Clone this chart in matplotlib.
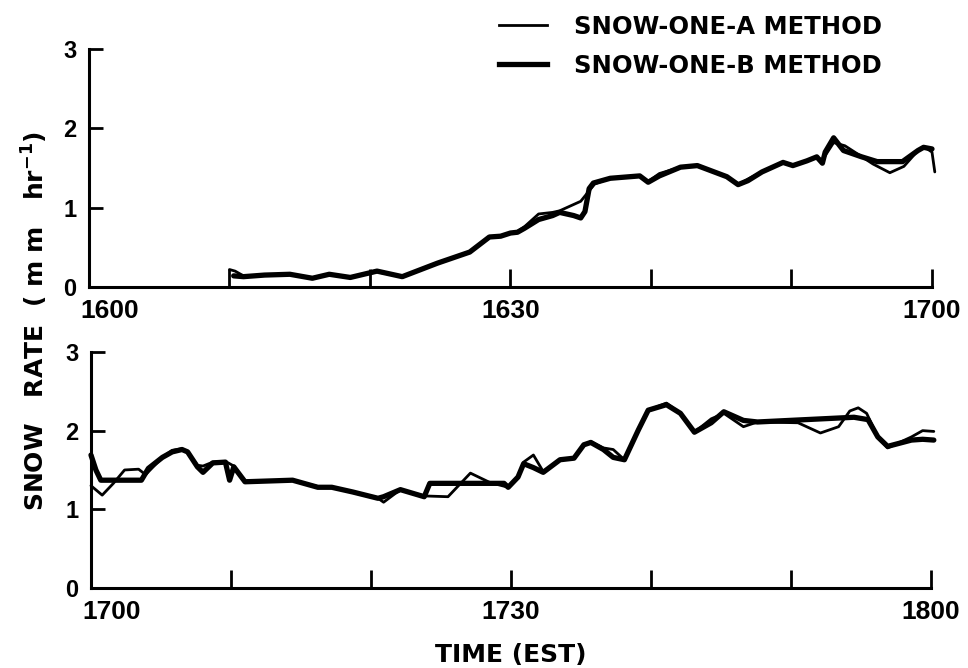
import matplotlib
matplotlib.use("Agg")
import matplotlib.pyplot as plt
from matplotlib.lines import Line2D
from matplotlib.transforms import ScaledTranslation

# minutes after the hour, snow rate in mm/hr
top_a_min = [10.0, 10.4, 11.0, 12.5, 14.3, 15.9, 17.1, 18.6, 20.5, 22.3, 24.8, 27.1, 28.5, 29.3,
             30.0, 30.5, 31.0, 32.0, 33.0, 33.5, 35.0, 36.0, 37.1, 39.2, 39.8, 40.6, 42.1, 43.3,
             44.2, 45.4, 46.2, 46.9, 47.9, 49.4, 50.1, 51.1, 51.8, 52.2, 53.0, 53.8, 54.5, 55.8,
             57.0, 58.0, 59.0, 59.5, 60.0, 60.2]
top_a_val = [0.22, 0.20, 0.14, 0.15, 0.16, 0.11, 0.16, 0.12, 0.19, 0.13, 0.30, 0.44, 0.62, 0.64,
             0.68, 0.70, 0.76, 0.92, 0.94, 0.96, 1.08, 1.30, 1.37, 1.40, 1.33, 1.43, 1.51, 1.53,
             1.47, 1.39, 1.29, 1.36, 1.45, 1.57, 1.53, 1.59, 1.63, 1.60, 1.82, 1.78, 1.70, 1.55,
             1.44, 1.52, 1.72, 1.76, 1.70, 1.45]

top_b_min = [10.3, 11.0, 12.5, 14.3, 15.9, 17.1, 18.6, 20.5, 22.3, 24.8, 27.1, 28.5, 29.3, 30.0,
             30.5, 31.0, 32.0, 33.0, 33.5, 34.5, 35.0, 35.3, 35.6, 35.9, 37.1, 39.2, 39.8, 40.6,
             42.1, 43.3, 44.2, 45.4, 46.2, 46.9, 47.9, 49.4, 50.1, 51.1, 51.8, 52.2, 52.4, 53.0,
             53.7, 55.0, 56.1, 57.9, 59.0, 59.4, 60.0]
top_b_val = [0.14, 0.13, 0.15, 0.16, 0.11, 0.16, 0.12, 0.20, 0.13, 0.30, 0.44, 0.63, 0.64, 0.68,
             0.69, 0.74, 0.85, 0.90, 0.94, 0.90, 0.87, 0.95, 1.24, 1.31, 1.37, 1.40, 1.32, 1.40,
             1.51, 1.53, 1.47, 1.39, 1.29, 1.34, 1.45, 1.57, 1.53, 1.59, 1.64, 1.56, 1.70, 1.88,
             1.72, 1.64, 1.58, 1.58, 1.72, 1.76, 1.74]

bot_a_min = [0.0, 0.8, 1.6, 2.4, 3.4, 3.9, 4.5, 5.1, 5.8, 6.5, 6.9, 7.6, 8.0, 8.7, 9.6, 10.2,
             11.0, 14.4, 16.2, 17.2, 18.7, 20.5, 20.9, 22.1, 23.8, 25.5, 27.1, 28.5, 29.8, 30.5,
             30.9, 31.6, 32.3, 33.5, 34.5, 35.2, 35.7, 36.6, 37.3, 38.1, 39.1, 39.8, 41.1, 42.1,
             43.1, 44.3, 45.2, 46.6, 47.6, 50.5, 52.1, 53.4, 54.2, 54.8, 55.4, 56.2, 56.9, 58.6,
             59.4, 60.2]
bot_a_val = [1.30, 1.18, 1.33, 1.50, 1.51, 1.44, 1.55, 1.66, 1.75, 1.77, 1.73, 1.56, 1.55, 1.60,
             1.61, 1.55, 1.36, 1.37, 1.29, 1.28, 1.22, 1.14, 1.09, 1.25, 1.17, 1.16, 1.46, 1.34,
             1.28, 1.41, 1.60, 1.69, 1.48, 1.63, 1.65, 1.82, 1.86, 1.78, 1.76, 1.63, 2.01, 2.26,
             2.35, 2.22, 1.98, 2.15, 2.22, 2.05, 2.11, 2.10, 1.97, 2.05, 2.25, 2.29, 2.22, 1.92,
             1.78, 1.92, 2.00, 1.99]

bot_b_min = [0.0, 0.35, 0.7, 3.6, 4.1, 5.1, 5.8, 6.5, 6.9, 7.6, 8.0, 8.7, 9.6, 9.9, 10.2, 11.0,
             14.4, 16.2, 17.2, 18.7, 20.5, 20.9, 22.1, 23.8, 24.2, 29.5, 29.8, 30.5, 30.9, 31.6,
             32.3, 33.5, 34.5, 35.2, 35.7, 36.6, 37.3, 38.1, 39.1, 39.8, 41.1, 42.1, 43.1, 44.3,
             45.2, 46.6, 47.6, 54.5, 55.5, 56.2, 56.9, 58.6, 59.4, 60.2]
bot_b_val = [1.69, 1.50, 1.37, 1.37, 1.52, 1.66, 1.73, 1.76, 1.73, 1.54, 1.47, 1.59, 1.60, 1.37,
             1.54, 1.35, 1.37, 1.28, 1.28, 1.22, 1.14, 1.16, 1.25, 1.16, 1.33, 1.33, 1.28, 1.41,
             1.58, 1.53, 1.47, 1.63, 1.65, 1.82, 1.85, 1.76, 1.66, 1.63, 2.01, 2.26, 2.33, 2.22,
             1.98, 2.10, 2.24, 2.13, 2.11, 2.17, 2.14, 1.92, 1.80, 1.88, 1.89, 1.88]

x_ticks = [0, 10, 20, 30, 40, 50, 60]
top_labels = ["1600", "", "", "1630", "", "", "1700"]
bot_labels = ["1700", "", "", "1730", "", "", "1800"]
y_ticks = [0, 1, 2, 3]

label_a = "SNOW-ONE-A METHOD"
label_b = "SNOW-ONE-B METHOD"

NUM_FONT = "Liberation Sans"
TXT_FONT = "DejaVu Sans"
THIN, THICK = 2.0, 3.8


def style_axis(ax, labels):
    ax.set_xlim(0, 60)
    ax.set_ylim(0, 3)
    for side in ("top", "right"):
        ax.spines[side].set_visible(False)
    for side in ("left", "bottom"):
        ax.spines[side].set_linewidth(2.2)
    ax.set_xticks(x_ticks)
    ax.set_xticklabels(labels, fontfamily=NUM_FONT, fontweight="bold", fontsize=19)
    ax.set_yticks(y_ticks)
    ax.set_yticklabels([str(v) for v in y_ticks], fontfamily=NUM_FONT,
                       fontweight="bold", fontsize=17)
    ax.tick_params(axis="x", direction="in", length=13, width=2.0, pad=9)
    ax.tick_params(axis="y", direction="in", length=10, width=2.0, pad=9)
    # the hour label at the left end sits just right of the axis corner
    first = ax.get_xticklabels()[0]
    first.set_horizontalalignment("left")
    first.set_transform(first.get_transform()
                        + ScaledTranslation(-6 / 72, 0, ax.figure.dpi_scale_trans))
    ax.patch.set_visible(False)


fig = plt.figure(figsize=(9.68, 6.68), dpi=100)
ax1 = fig.add_axes([0.0919, 0.5704, 0.8709, 0.3563])
ax2 = fig.add_axes([0.0940, 0.1198, 0.8678, 0.3533])

line_kw = dict(color="black", solid_joinstyle="round", solid_capstyle="round", clip_on=False)
ax1.plot(top_a_min, top_a_val, lw=THIN, **line_kw)
ax1.plot(top_b_min, top_b_val, lw=THICK, **line_kw)
ax2.plot(bot_a_min, bot_a_val, lw=THIN, **line_kw)
ax2.plot(bot_b_min, bot_b_val, lw=THICK, **line_kw)

style_axis(ax1, top_labels)
style_axis(ax2, bot_labels)

handles = [Line2D([], [], color="black", lw=THIN), Line2D([], [], color="black", lw=THICK)]
fig.legend(handles, [label_a, label_b], loc="upper left", bbox_to_anchor=(0.515, 0.978),
           frameon=False, borderpad=0, borderaxespad=0, handlelength=2.0,
           handletextpad=1.1, labelspacing=0.62,
           prop={"family": TXT_FONT, "weight": "bold", "size": 17.5})

fig.text(0.036, 0.52, "SNOW   RATE  ( m m   hr$^{\\mathbf{-1}}$)", rotation=90,
         ha="center", va="center", fontfamily=TXT_FONT, fontweight="bold", fontsize=18)
fig.text(0.528, 0.019, "TIME (EST)", ha="center", va="center",
         fontfamily=TXT_FONT, fontweight="bold", fontsize=18)

fig.savefig("out.png", dpi=100)
